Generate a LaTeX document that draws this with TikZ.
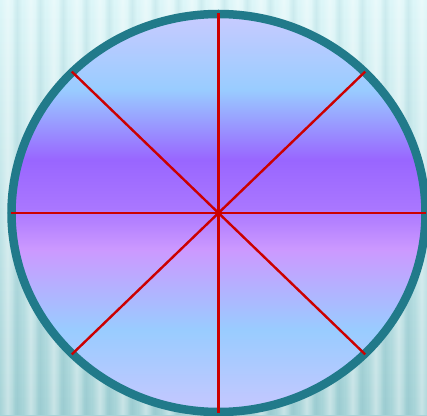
\documentclass[tikz,border=0pt]{standalone}
\usetikzlibrary{calc,fadings}
\definecolor{bgtop}{HTML}{DDF6F8}
\definecolor{bgbot}{HTML}{A6D3D7}
\definecolor{rimc}{HTML}{217A8A}
\definecolor{spoke}{HTML}{CC0000}
\definecolor{dA}{HTML}{C6CBFF}
\definecolor{dB}{HTML}{99CCFF}
\definecolor{dC}{HTML}{9966FF}
\definecolor{dD}{HTML}{AA77FF}
\definecolor{dE}{HTML}{CC99FF}
\definecolor{dF}{HTML}{99CCFF}
\definecolor{dG}{HTML}{C0C8FF}
\pgfdeclareverticalshading{discshade}{100bp}{color(0bp)=(dG); color(26.5bp)=(dG); color(35.3bp)=(dF); color(45.4bp)=(dE); color(50.4bp)=(dD); color(56.7bp)=(dC); color(65.5bp)=(dB); color(74.5bp)=(dA); color(100bp)=(dA)}
\tikzfading[name=bandfade, left color=transparent!100, right color=transparent!100, middle color=transparent!0]
\tikzset{
  spokeline/.style={draw=spoke, line width=2.4pt},
  rimline/.style={draw=rimc, line width=8.5pt},
  lightband/.style={fill=white, opacity=0.38, path fading=bandfade},
  darkband/.style={fill=rimc, opacity=0.08, path fading=bandfade},
}
\begin{document}
\begin{tikzpicture}[x=1pt,y=1pt]
\useasboundingbox (0,0) rectangle (427,415);
\shade[top color=bgtop, bottom color=bgbot] (0,0) rectangle (427,415);
\foreach \s in {0,23,46,69,92,115,138,161,184,207,230,253,276,299,322,345,368,391,414}{
  \path[lightband] (\s,0) rectangle (\s+15,415);
  \path[darkband] (\s+12,0) rectangle (\s+22,415);
}
\coordinate (c) at (218.5,202);
\shade[shading=discshade] (c) ellipse [x radius=207, y radius=199];
\draw[rimline] (c) ellipse [x radius=207, y radius=199];
\foreach \a in {0,45,90,135,180,225,270,315}{
  \coordinate (e\a) at ($(c)+({207.5*cos(\a)},{200*sin(\a)})$);
  \draw[spokeline] (c) -- (e\a);
}
\end{tikzpicture}
\end{document}
